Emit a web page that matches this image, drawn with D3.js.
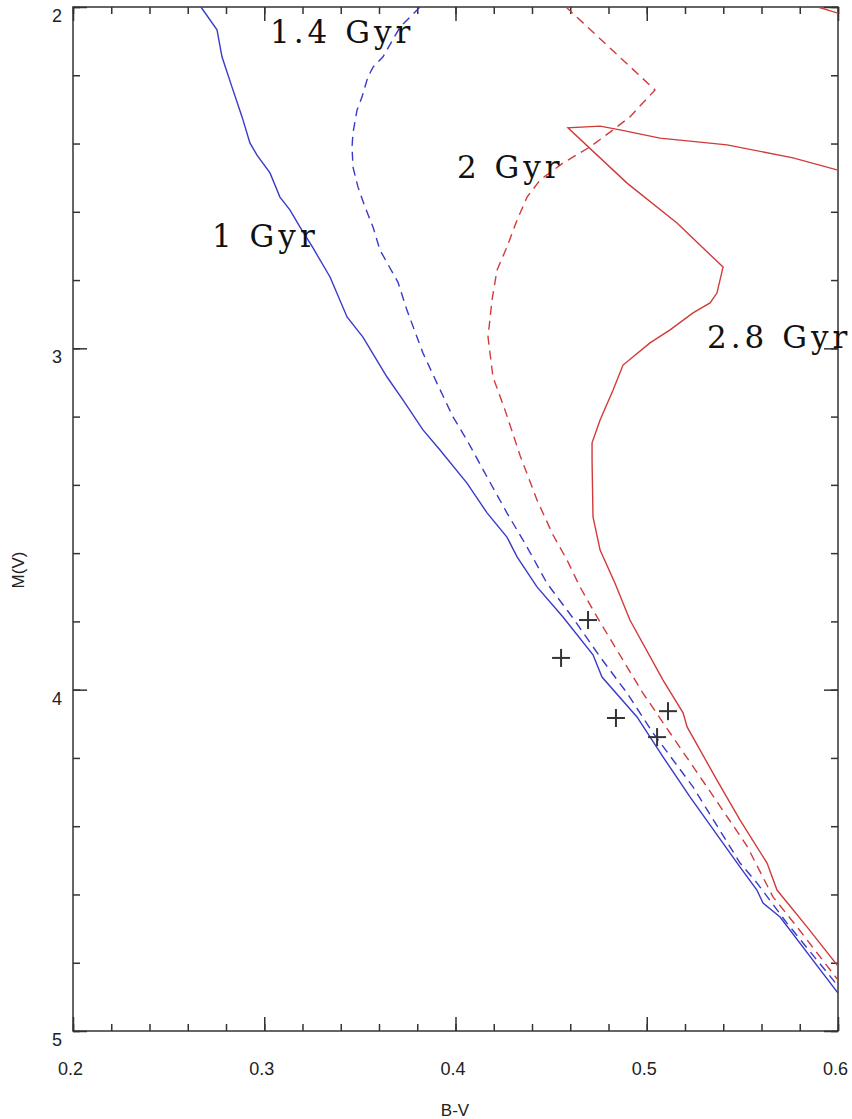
<!DOCTYPE html>
<html>
<head>
<meta charset="utf-8">
<script src="https://cdn.jsdelivr.net/npm/d3@7"></script>
<style>
  body { margin: 0; background: #fff; }
</style>
</head>
<body>
<div id="chart"></div>
<script>
// isochrones, points are [B-V, M(V)]
const iso1Gyr = [
  [0.2669,2.000],[0.2753,2.067],[0.2779,2.146],[0.2831,2.234],[0.2884,2.322],
  [0.2925,2.398],[0.2962,2.434],[0.3030,2.486],[0.3082,2.557],[0.3135,2.595],
  [0.3187,2.645],[0.3255,2.706],[0.3344,2.791],[0.3433,2.908],[0.3516,2.967],
  [0.3642,3.084],[0.3725,3.151],[0.3830,3.239],[0.3919,3.298],[0.4060,3.395],
  [0.4165,3.482],[0.4269,3.553],[0.4322,3.611],[0.4426,3.699],[0.4562,3.787],
  [0.4719,3.898],[0.4766,3.963],[0.4949,4.080],[0.5085,4.197],[0.5226,4.314],
  [0.5488,4.520],[0.5576,4.587],[0.5608,4.625],[0.5697,4.666],[0.6000,4.889]
];
const iso14Gyr = [
  [0.3814,2.000],[0.3710,2.059],[0.3621,2.146],[0.3569,2.176],[0.3542,2.205],
  [0.3511,2.264],[0.3485,2.302],[0.3464,2.369],[0.3459,2.410],[0.3464,2.469],
  [0.3490,2.527],[0.3527,2.586],[0.3569,2.645],[0.3605,2.712],[0.3699,2.806],
  [0.3746,2.888],[0.3830,3.014],[0.3903,3.102],[0.3987,3.201],[0.4060,3.269],
  [0.4165,3.377],[0.4269,3.482],[0.4374,3.582],[0.4478,3.688],[0.4614,3.790],
  [0.4756,3.904],[0.4897,4.010],[0.5033,4.127],[0.5242,4.285],[0.5488,4.508],
  [0.5576,4.566],[0.5733,4.684],[0.6000,4.868]
];
const iso2Gyr = [
  [0.4578,2.000],[0.5043,2.243],[0.4912,2.322],[0.4824,2.360],[0.4703,2.410],
  [0.4562,2.457],[0.4442,2.507],[0.4374,2.557],[0.4322,2.624],[0.4269,2.703],
  [0.4217,2.771],[0.4191,2.858],[0.4170,2.967],[0.4196,3.084],[0.4259,3.181],
  [0.4337,3.313],[0.4426,3.444],[0.4510,3.547],[0.4583,3.620],[0.4651,3.699],
  [0.4740,3.787],[0.4844,3.884],[0.4980,4.010],[0.5122,4.127],[0.5315,4.285],
  [0.5524,4.458],[0.5660,4.607],[0.5786,4.695],[0.6000,4.851]
];
const iso28Gyr = [
  [0.6000,2.478],[0.5765,2.442],[0.5420,2.404],[0.5069,2.384],[0.4860,2.360],
  [0.4756,2.349],[0.4588,2.354],[0.4897,2.516],[0.5158,2.633],[0.5399,2.762],
  [0.5367,2.838],[0.5331,2.867],[0.5242,2.896],[0.5122,2.946],[0.5017,2.984],
  [0.4876,3.049],[0.4824,3.122],[0.4756,3.210],[0.4714,3.277],[0.4714,3.327],
  [0.4719,3.494],[0.4756,3.591],[0.4834,3.688],[0.4912,3.796],[0.5085,3.972],
  [0.5190,4.068],[0.5211,4.109],[0.5367,4.265],[0.5488,4.382],[0.5629,4.508],
  [0.5681,4.587],[0.5838,4.695],[0.6000,4.810]
];
// short bit of the 2.8 Gyr track in the top right corner
const iso28GyrTop = [[0.5895,2.000],[0.6000,2.018]];

// observed stars
const starsBV = [0.4693, 0.4552, 0.4839, 0.5111, 0.5054];
const starsMV = [3.796, 3.907, 4.083, 4.063, 4.139];

const labelText = ["1 Gyr", "1.4 Gyr", "2 Gyr", "2.8 Gyr"];
const labelBV = [0.2727, 0.3030, 0.4008, 0.5315];
const labelMV = [2.703, 2.105, 2.501, 2.999];

const xTicks = [0.2, 0.3, 0.4, 0.5, 0.6];
const yTicks = [2, 3, 4, 5];

const margin = {top: 7, right: 14, bottom: 88, left: 73};
const size = {width: 852, height: 1119};
const width = size.width - margin.left - margin.right;
const height = size.height - margin.top - margin.bottom;

const blue = "#3a3ac8";
const red = "#d23a3a";
const axisColor = "#333";

const svg = d3.select("#chart").append("svg")
    .attr("width", size.width)
    .attr("height", size.height)
  .append("g")
    .attr("transform", "translate(" + margin.left + "," + margin.top + ")");

const xScale = d3.scaleLinear().domain([0.2, 0.6]).range([0, width]);
const yScale = d3.scaleLinear().domain([2, 5]).range([0, height]);

const xMinor = d3.range(0.2, 0.6001, 0.02);
const yMinor = d3.range(2, 5.001, 0.2);

// ticks point inwards on all four sides
function drawAxis(axisFn, scale, transform, major, minor, withLabels) {
    const g = svg.append("g").attr("transform", transform);
    g.append("g").call(axisFn(scale).tickValues(minor).tickFormat("")
        .tickSizeInner(-7).tickSizeOuter(0));
    const mg = g.append("g").attr("class", "majorG");
    const ax = axisFn(scale).tickValues(major).tickSizeInner(-14).tickSizeOuter(0);
    if (withLabels) {
        ax.tickFormat(d3.format("")).tickPadding(withLabels);
    } else {
        ax.tickFormat("");
    }
    mg.call(ax);
    g.selectAll(".domain").remove();
    g.selectAll("line").attr("stroke", axisColor).attr("stroke-width", 1.5);
    g.selectAll("text")
        .attr("fill", "#222")
        .style("font-family", "'Liberation Sans', Arial, sans-serif")
        .style("font-size", "18px");
    return g;
}

drawAxis(d3.axisBottom, xScale, "translate(0," + height + ")", xTicks, xMinor, 31)
    .selectAll("text").attr("dx", "-3");
drawAxis(d3.axisTop, xScale, "translate(0,0)", xTicks, xMinor, 0);
drawAxis(d3.axisLeft, yScale, "translate(0,0)", yTicks, yMinor, 11)
    .selectAll("text").attr("dy", "0.8em");
drawAxis(d3.axisRight, yScale, "translate(" + width + ",0)", yTicks, yMinor, 0);

// frame
svg.append("rect")
    .attr("width", width)
    .attr("height", height)
    .attr("fill", "none")
    .attr("stroke", axisColor)
    .attr("stroke-width", 1.5);

svg.append("clipPath").attr("id", "plotClip")
  .append("rect").attr("width", width).attr("height", height);

const line = d3.line()
    .x(d => xScale(d[0]))
    .y(d => yScale(d[1]));

const curves = [
    {data: iso1Gyr, color: blue, dash: null},
    {data: iso14Gyr, color: blue, dash: "9,6"},
    {data: iso2Gyr, color: red, dash: "9,6"},
    {data: iso28Gyr, color: red, dash: null},
    {data: iso28GyrTop, color: red, dash: null}
];

svg.append("g").attr("clip-path", "url(#plotClip)")
  .selectAll(".isoPath")
  .data(curves)
  .join("path")
    .attr("class", "isoPath")
    .attr("d", d => line(d.data))
    .attr("fill", "none")
    .attr("stroke", d => d.color)
    .attr("stroke-width", 1.4)
    .attr("stroke-dasharray", d => d.dash);

// crosses for the stars
const arm = 9;
const starG = svg.selectAll(".starG")
  .data(starsBV.map((bv, i) => ({bv: bv, mv: starsMV[i]})))
  .join("g")
    .attr("class", "starG")
    .attr("transform", d => `translate(${xScale(d.bv)},${yScale(d.mv)})`);
starG.append("line").attr("x1", -arm).attr("x2", arm);
starG.append("line").attr("y1", -arm).attr("y2", arm);
starG.selectAll("line").attr("stroke", "#333").attr("stroke-width", 2);

svg.selectAll(".ageLabel")
  .data(labelText)
  .join("text")
    .attr("class", "ageLabel")
    .attr("x", (d, i) => xScale(labelBV[i]))
    .attr("y", (d, i) => yScale(labelMV[i]))
    .attr("fill", "#111")
    .style("font-family", "'DejaVu Serif', serif")
    .style("font-size", "31px")
    .style("letter-spacing", "4px")
    .text(d => d);

// axis titles
svg.append("text")
    .attr("transform", "translate(" + (18 - margin.left) + "," + (570 - margin.top) + ") rotate(-90)")
    .attr("text-anchor", "middle")
    .attr("dy", "0.35em")
    .attr("fill", "#222")
    .style("font-family", "'Liberation Sans', Arial, sans-serif")
    .style("font-size", "17px")
    .text("M(V)");

svg.append("text")
    .attr("x", 455 - margin.left)
    .attr("y", 1116 - margin.top)
    .attr("text-anchor", "middle")
    .attr("fill", "#222")
    .style("font-family", "'Liberation Sans', Arial, sans-serif")
    .style("font-size", "17px")
    .text("B-V");
</script>
</body>
</html>
